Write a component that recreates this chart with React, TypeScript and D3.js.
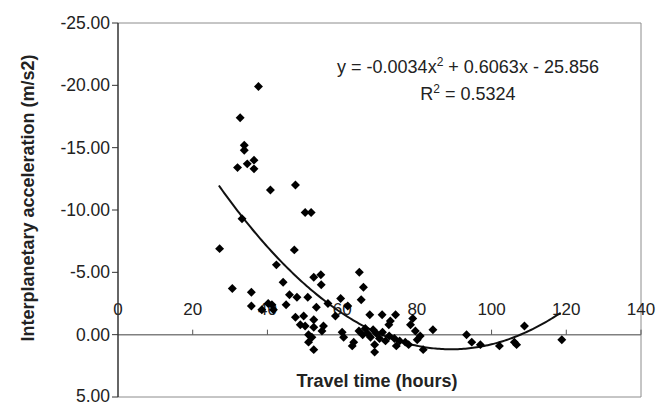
import React, { useEffect, useRef } from 'react';
import * as d3 from 'd3';

// travel time (hours) of each event
const travelTime = [
  27.2, 30.6, 32.0, 32.7, 33.2, 33.8, 33.8, 34.6, 35.7, 35.7,
  36.4, 36.4, 37.6, 38.5, 40.2, 40.8, 41.2, 41.6, 42.4, 44.2,
  45.0, 45.9, 47.2, 47.5, 47.5, 47.9, 48.8, 49.7, 50.1, 50.1,
  50.8, 51.0, 51.0, 51.7, 51.9, 52.4, 52.4, 52.4, 52.4, 53.1,
  54.3, 54.4, 54.6, 55.0, 56.2, 58.2, 59.6, 60.0, 60.4, 61.5,
  62.7, 63.1, 64.6, 65.1, 65.7, 64.5, 65.5, 66.2, 66.8, 67.4,
  67.6, 68.3, 68.7, 68.7, 69.2, 70.0, 70.7, 70.8, 71.6, 72.5,
  72.9, 72.6, 74.0, 74.3, 74.5, 75.4, 76.9, 77.8, 78.3, 78.9,
  79.6, 80.1, 80.9, 81.7, 84.3, 93.3, 94.7, 97.0, 102.1, 106.1,
  106.7, 108.8, 118.8,
];

// interplanetary acceleration (m/s2)
const acceleration = [
  -6.9, -3.7, -13.4, -17.4, -9.3, -15.2, -14.8, -13.7, -3.4, -2.3,
  -14.0, -13.3, -19.9, -2.0, -2.5, -11.6, -2.4, -2.0, -5.6, -4.2,
  -2.4, -3.2, -6.8, -12.0, -1.4, -3.0, -0.8, -1.5, -9.8, -0.7,
  -3.0, 0.0, 0.6, -9.8, 0.2, -4.6, -1.2, -0.6, 1.2, -2.2,
  -4.8, -4.0, -0.3, -0.7, -2.5, -1.5, -2.9, -0.2, 0.2, -2.3,
  0.9, 0.6, -5.0, -2.8, -3.8, -0.3, 0.0, -0.5, -0.1, -1.6,
  0.2, -0.4, 0.8, 1.4, -0.1, 0.3, -1.6, -0.2, 0.5, -0.8,
  -1.1, 0.1, 0.3, -1.6, 0.9, 0.5, 0.6, 0.8, -0.8, -1.3,
  -0.3, 0.4, 0.1, 1.2, -0.4, 0.0, 0.6, 0.8, 0.9, 0.6,
  0.8, -0.7, 0.4,
];

const xTicks = [0, 20, 40, 60, 80, 100, 120, 140];
const yTicks = [-25, -20, -15, -10, -5, 0, 5];

// polynomial trendline (as printed on the chart)
const trendA = -0.0034;
const trendB = 0.6063;
const trendC = -25.856;
const trendRange = [27, 118.5];

const FONT = '"Liberation Sans", Arial, sans-serif';

const App = () => {
  const svgRef = useRef<SVGSVGElement>(null);

  useEffect(() => {
    const width = 657;
    const height = 405;
    const margin = { top: 23, right: 16, bottom: 8, left: 118 };

    const svg = d3.select(svgRef.current);
    svg.selectAll('*').remove();
    svg.attr('width', width).attr('height', height);

    const x = d3.scaleLinear()
      .domain([0, 140])
      .range([margin.left, width - margin.right]);

    const y = d3.scaleLinear()
      .domain([-25, 5])
      .range([margin.top, height - margin.bottom]);

    const g = svg.append('g');

    // plot border (top / right / bottom)
    g.append('path')
      .attr('d', `M${x(0)},${y(-25)}H${x(140)}V${y(5)}H${x(0)}`)
      .attr('fill', 'none')
      .attr('stroke', '#8c8c8c')
      .attr('stroke-width', 1);

    // x axis at zero
    const xAxis = g.append('g').attr('transform', `translate(0,${y(0)})`);
    xAxis.append('line')
      .attr('x1', x(0)).attr('x2', x(140))
      .attr('stroke', '#808080').attr('stroke-width', 1.5);
    xAxis.selectAll('line.tick')
      .data(xTicks.slice(1))
      .enter()
      .append('line')
      .attr('class', 'tick')
      .attr('x1', d => x(d)).attr('x2', d => x(d))
      .attr('y1', 0).attr('y2', -5)
      .attr('stroke', '#555');
    xAxis.selectAll('text')
      .data(xTicks)
      .enter()
      .append('text')
      .attr('x', d => x(d))
      .attr('y', -20)
      .attr('text-anchor', 'middle')
      .attr('font-family', FONT)
      .attr('font-size', 17)
      .attr('fill', '#222')
      .text(d => d);

    // y axis
    const yAxis = g.append('g').attr('transform', `translate(${x(0)},0)`);
    yAxis.append('line')
      .attr('y1', y(-25)).attr('y2', y(5))
      .attr('stroke', '#333').attr('stroke-width', 1.5);
    yAxis.selectAll('line.tick')
      .data(yTicks)
      .enter()
      .append('line')
      .attr('class', 'tick')
      .attr('x1', -6).attr('x2', 0)
      .attr('y1', d => y(d)).attr('y2', d => y(d))
      .attr('stroke', '#333');
    yAxis.selectAll('text')
      .data(yTicks)
      .enter()
      .append('text')
      .attr('x', -8)
      .attr('y', d => y(d))
      .attr('dy', d => (d === 5 ? '0.28em' : '0.35em'))
      .attr('text-anchor', 'end')
      .attr('font-family', FONT)
      .attr('font-size', 17.5)
      .attr('fill', '#222')
      .text(d => d.toFixed(2));

    // trendline
    const poly = (t: number) => trendA * t * t + trendB * t + trendC;
    const steps = d3.range(trendRange[0], trendRange[1] + 0.01, 0.5);
    g.append('path')
      .attr('d', d3.line<number>().x(t => x(t)).y(t => y(poly(t)))(steps))
      .attr('fill', 'none')
      .attr('stroke', '#111')
      .attr('stroke-width', 2);

    // points
    const diamond = d3.symbol().type(d3.symbolSquare).size(40)();
    g.selectAll('path.pt')
      .data(travelTime.map((t, i) => [t, acceleration[i]]))
      .enter()
      .append('path')
      .attr('class', 'pt')
      .attr('d', diamond)
      .attr('transform', d => `translate(${x(d[0])},${y(d[1])}) rotate(45)`)
      .attr('fill', '#000');

    // equation
    const eq = g.append('text')
      .attr('x', 468)
      .attr('y', 73)
      .attr('text-anchor', 'middle')
      .attr('font-family', FONT)
      .attr('font-size', 18)
      .attr('fill', '#222');
    eq.append('tspan').text('y = -0.0034x');
    eq.append('tspan').attr('dy', -7).attr('font-size', 12).text('2');
    eq.append('tspan').attr('dy', 7).text(' + 0.6063x - 25.856');

    const r2 = g.append('text')
      .attr('x', 468)
      .attr('y', 100)
      .attr('text-anchor', 'middle')
      .attr('font-family', FONT)
      .attr('font-size', 18)
      .attr('fill', '#222');
    r2.append('tspan').text('R');
    r2.append('tspan').attr('dy', -7).attr('font-size', 12).text('2');
    r2.append('tspan').attr('dy', 7).text(' = 0.5324');

    // axis titles
    g.append('text')
      .attr('transform', `translate(34,198) rotate(-90)`)
      .attr('text-anchor', 'middle')
      .attr('font-family', FONT)
      .attr('font-size', 18)
      .attr('font-weight', 'bold')
      .attr('fill', '#222')
      .text('Interplanetary acceleration (m/s2)');

    g.append('text')
      .attr('x', 377)
      .attr('y', 387)
      .attr('text-anchor', 'middle')
      .attr('font-family', FONT)
      .attr('font-size', 18)
      .attr('font-weight', 'bold')
      .attr('fill', '#222')
      .text('Travel time (hours)');
  }, []);

  return (
    <svg
      ref={svgRef}
      style={{ position: 'absolute', left: 0, top: 0, background: '#fff' }}
    />
  );
};

export default App;
